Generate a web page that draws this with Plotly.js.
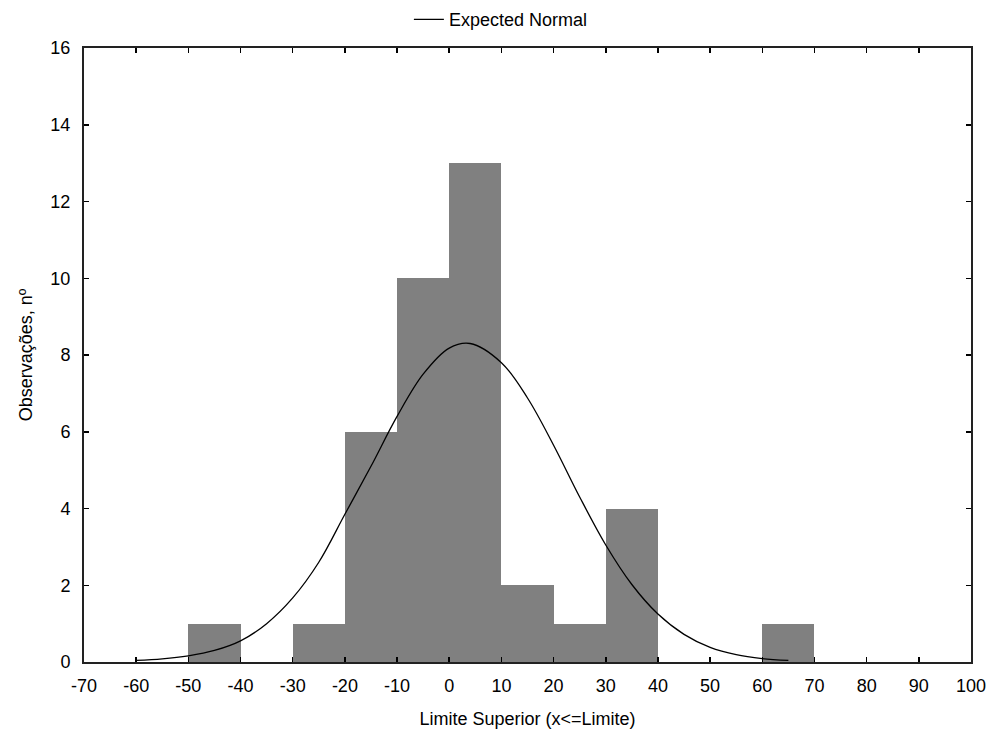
<!DOCTYPE html>
<html>
<head>
<meta charset="utf-8">
<script src="https://cdn.plot.ly/plotly-3.0.1.min.js"></script>
<style>html,body{margin:0;padding:0;background:#fff;}</style>
</head>
<body>
<div id="chart" style="width:988px;height:733px;"></div>
<script>
// Histogram bins (lower edges, width 10) and counts
const binStarts = [-50, -40, -30, -20, -10, 0, 10, 20, 30, 40, 50, 60];
const binWidth = 10;
const counts = [1, 0, 1, 6, 10, 13, 2, 1, 4, 0, 0, 1];

// Expected Normal curve
const curveX = [-60, -55, -50, -45, -40, -35, -30, -25, -20, -15, -10, -5, 0, 4, 10, 15, 20, 25, 30, 35, 40, 45, 50, 55, 60, 65];
const curveY = [0.04, 0.08, 0.16, 0.3, 0.55, 1.0, 1.67, 2.6, 3.85, 5.1, 6.4, 7.5, 8.18, 8.3, 7.8, 6.88, 5.65, 4.3, 3.05, 2.02, 1.25, 0.72, 0.38, 0.19, 0.09, 0.04];

const xTicks = [-70, -60, -50, -40, -30, -20, -10, 0, 10, 20, 30, 40, 50, 60, 70, 80, 90, 100];
const yTicks = [0, 2, 4, 6, 8, 10, 12, 14, 16];

const barCenters = binStarts.map(s => s + binWidth / 2);

const traces = [
  {
    type: 'bar',
    x: barCenters,
    y: counts,
    width: binWidth,
    marker: {color: '#808080', line: {color: '#808080', width: 0}},
    showlegend: false,
    hoverinfo: 'x+y'
  },
  {
    type: 'scatter',
    mode: 'lines',
    x: curveX,
    y: curveY,
    name: 'Expected Normal',
    line: {color: '#000000', width: 1.3, shape: 'spline', smoothing: 1}
  }
];

const layout = {
  width: 988,
  height: 733,
  margin: {l: 84, r: 17, t: 48, b: 71, autoexpand: false},
  paper_bgcolor: '#ffffff',
  plot_bgcolor: '#ffffff',
  font: {family: 'Liberation Sans, Arial, sans-serif', size: 18, color: '#000'},
  bargap: 0,
  showlegend: true,
  legend: {
    orientation: 'h',
    x: 0.47, xanchor: 'center',
    y: 1.046, yanchor: 'middle',
    font: {size: 18},
    bgcolor: 'rgba(0,0,0,0)'
  },
  xaxis: {
    range: [-70, 100],
    tickvals: xTicks,
    ticktext: xTicks.map(String),
    ticks: 'inside',
    ticklen: 5,
    tickwidth: 1.5,
    tickcolor: '#000',
    ticklabelstandoff: 6,
    showline: true,
    linecolor: '#222',
    linewidth: 2,
    mirror: 'allticks',
    showgrid: false,
    zeroline: false,
    tickfont: {size: 18},
    title: {text: 'Limite Superior (x<=Limite)', font: {size: 18}, standoff: 18}
  },
  yaxis: {
    range: [0, 16],
    tickvals: yTicks,
    ticktext: yTicks.map(String),
    ticks: 'inside',
    ticklen: 5,
    tickwidth: 1.5,
    tickcolor: '#000',
    ticklabelstandoff: 8,
    showline: true,
    linecolor: '#222',
    linewidth: 2,
    mirror: 'allticks',
    showgrid: false,
    zeroline: false,
    tickfont: {size: 18},
    title: {text: 'Observações, nº', font: {size: 18}, standoff: 13}
  }
};

Plotly.newPlot('chart', traces, layout, {displayModeBar: false, staticPlot: true});
</script>
</body>
</html>
